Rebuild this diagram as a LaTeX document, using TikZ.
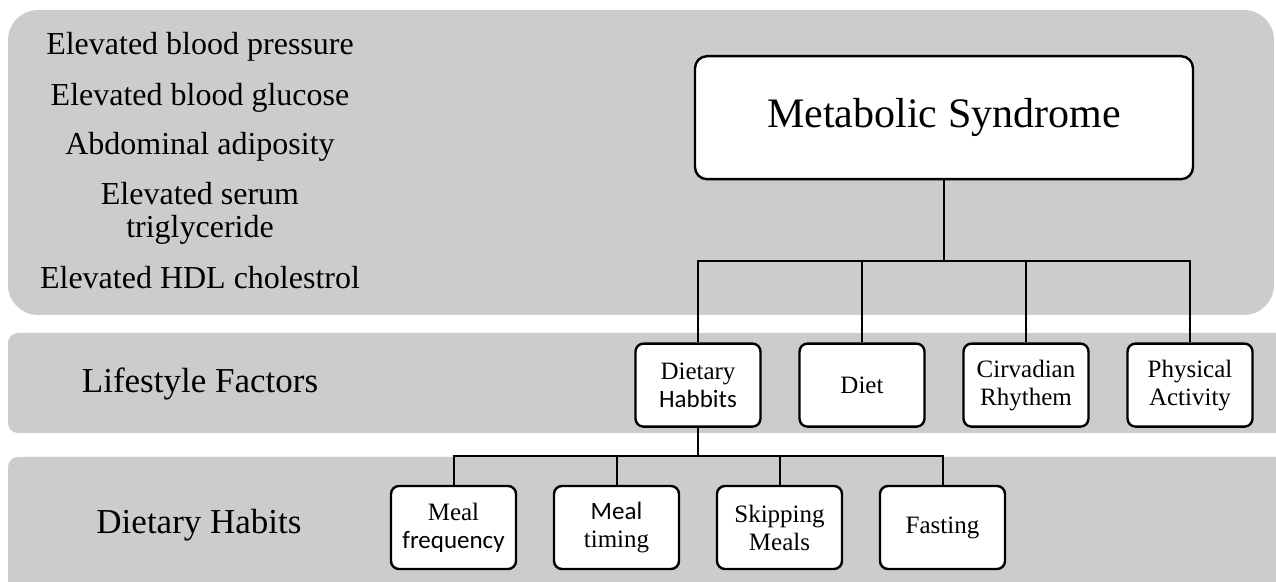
\documentclass[tikz,border=0pt]{standalone}
\usepackage{fontspec}
\setmainfont{Liberation Serif}
\newfontfamily\calib{Carlito}
\usepackage{tikz}
\usetikzlibrary{positioning,trees}
\definecolor{panelgray}{RGB}{204,204,204}

\begin{document}
\begin{tikzpicture}[
	x=0.5pt, y=-0.5pt,
	panel/.style={fill=panelgray, draw=none},
	msbox/.style={rectangle, draw=black, line width=1.2pt, rounded corners=6pt, fill=white,
		minimum width=249pt, minimum height=61.5pt, text centered, anchor=north,
		font=\fontsize{21}{24}\selectfont},
	box/.style={rectangle, draw=black, line width=1.2pt, rounded corners=4pt, fill=white,
		minimum width=62.5pt, minimum height=41.5pt, text centered, anchor=north, align=center,
		font=\fontsize{12.5}{14}\selectfont},
	sym/.style={anchor=base, align=center, font=\fontsize{16}{16.5}\selectfont},
	layer/.style={anchor=base, font=\fontsize{17.5}{20}\selectfont},
	parent anchor=south, child anchor=north, growth parent anchor=south,
	edge from parent fork down,
	edge from parent/.style={draw, line width=1pt},
	level 1/.style={sibling distance=82pt, level distance=81pt},
	level 2/.style={sibling distance=81.5pt, level distance=28.5pt}
	]
	\useasboundingbox (0,0) rectangle (1276,582);
	\fill[panel, rounded corners=15pt] (8,10) rectangle (1274,315);
	\fill[panel, rounded corners=5pt] (8,333) rectangle (1290,433);
	\fill[panel, rounded corners=5pt] (8,457) rectangle (1290,600);

	\node (bp) [sym] at (200,55) {Elevated blood pressure};
	\node (glu) [sym] at (200,106) {Elevated blood glucose};
	\node (adip) [sym] at (200,155) {Abdominal adiposity};
	\node (trig) [sym] at (200,238) {Elevated serum\\triglyceride};
	\node (hdl) [sym] at (200,289) {Elevated HDL cholestrol};

	\node (lf) [layer] at (200,393) {Lifestyle Factors};
	\node (dhab) [layer] at (199,534) {Dietary Habits};

	\node (ms) [msbox] at (944,55) {Metabolic Syndrome}
	child{
		node (dh) [box] {Dietary\\{\calib Habbits}}
		child{
			node (mf) [box] {Meal\\{\calib frequency}}
		}
		child{
			node (mt) [box] {{\calib Meal}\\timing}
		}
		child{
			node (sm) [box] {Skipping\\Meals}
		}
		child{
			node (fa) [box] {Fasting}
		}
	}
	child{
		node (di) [box] {Diet}
	}
	child{
		node (cr) [box] {Cirvadian\\Rhythem}
	}
	child{
		node (pa) [box] {Physical\\Activity}
	}
	;
\end{tikzpicture}
\end{document}
